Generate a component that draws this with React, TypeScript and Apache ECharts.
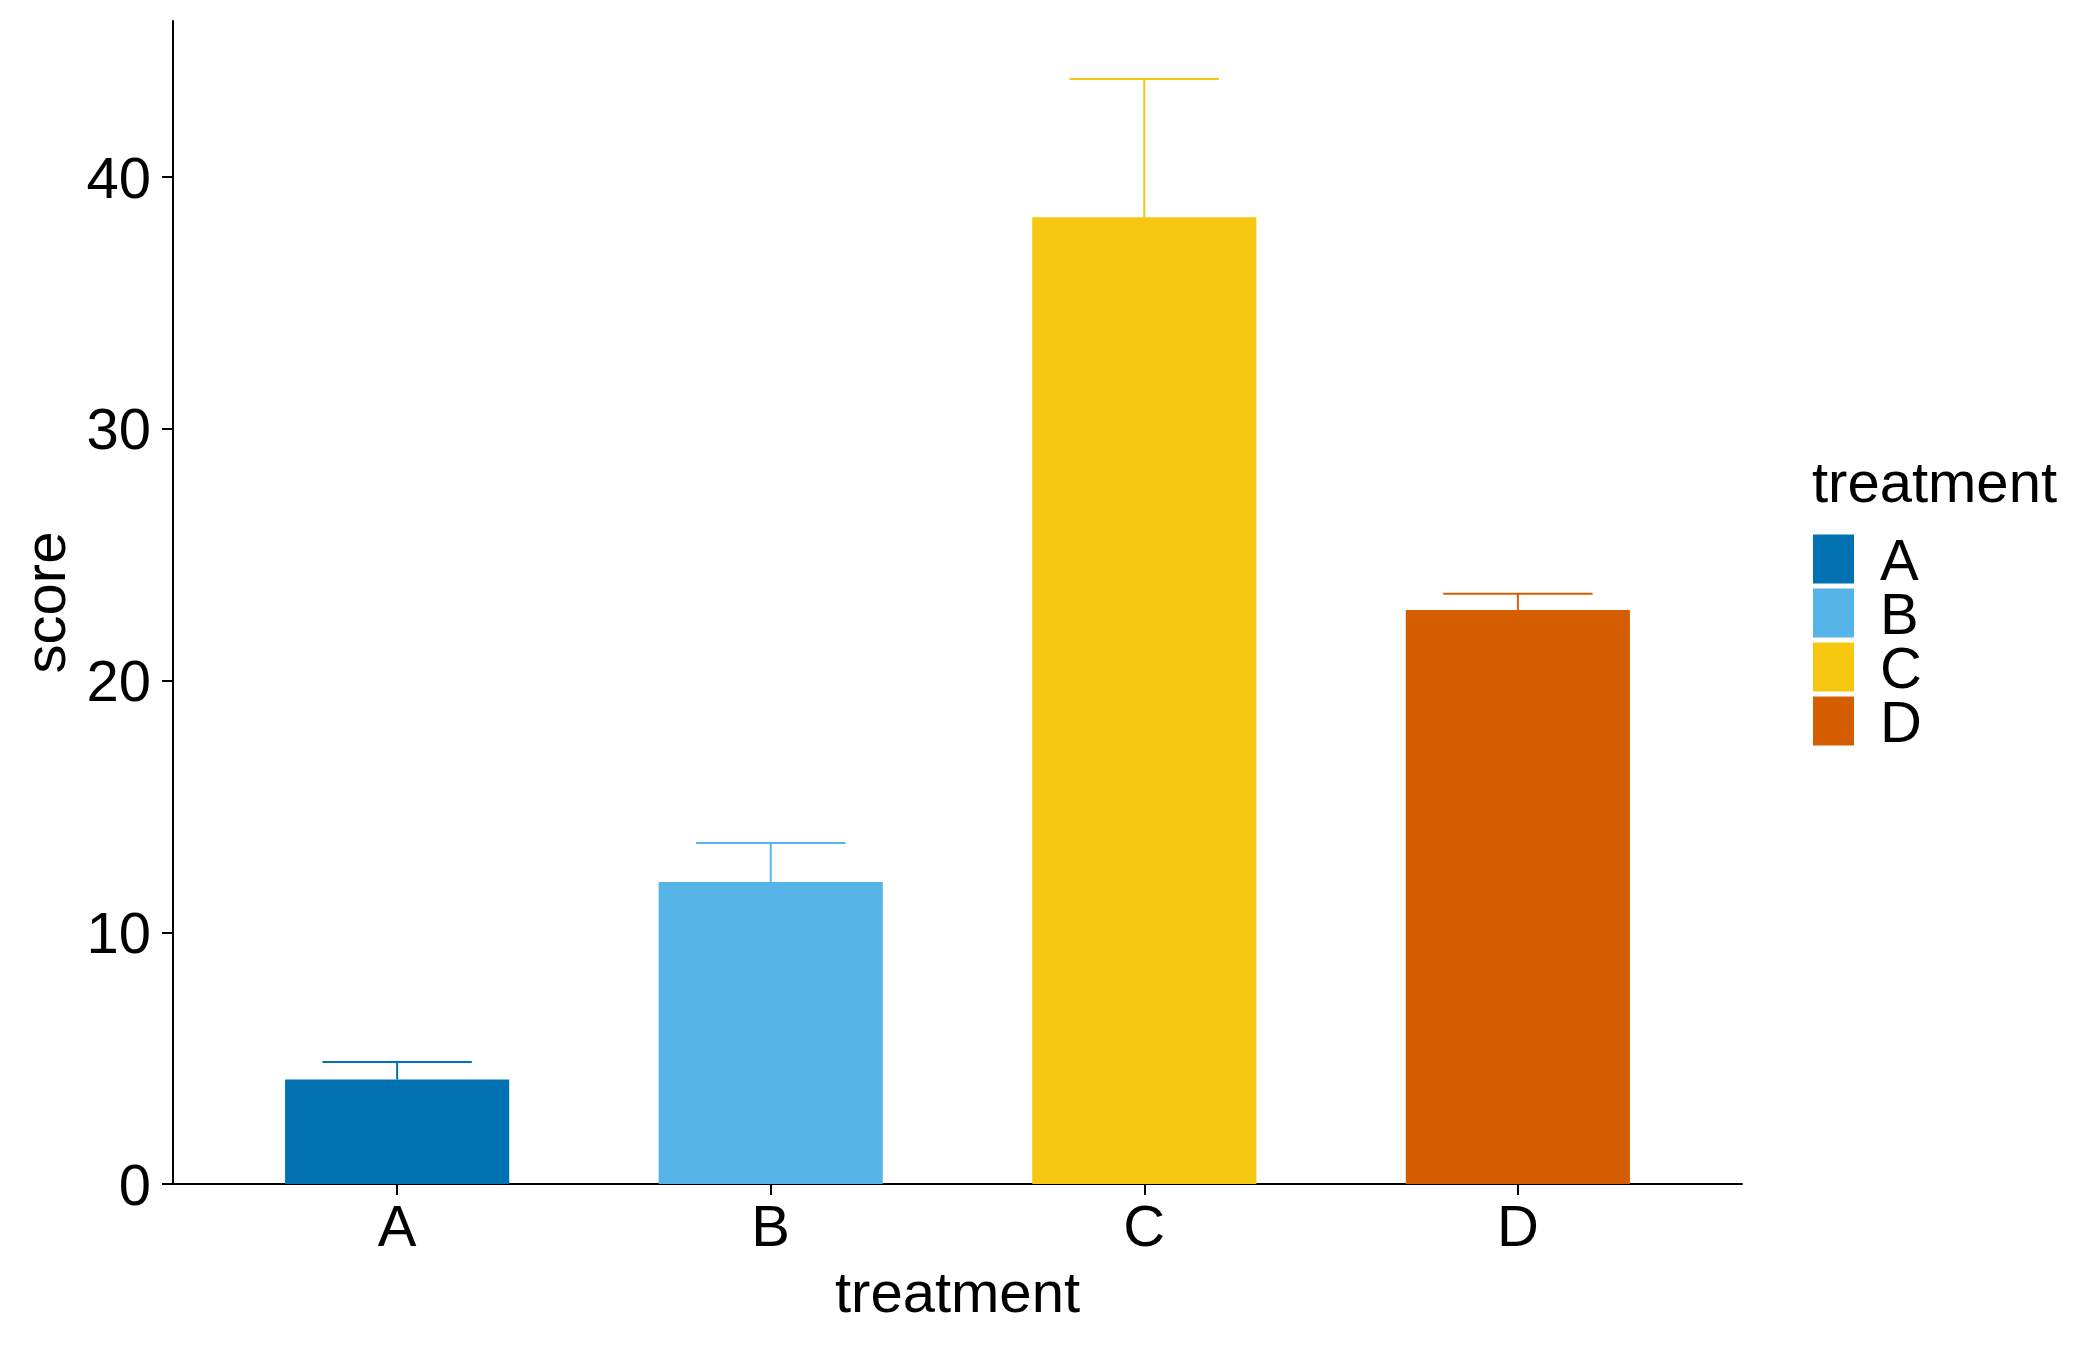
import React, { useEffect, useRef } from "react";
import * as echarts from "echarts";

const categories = ["A", "B", "C", "D"];
const means = [4.15, 12.0, 38.4, 22.8];
const upper = [4.85, 13.55, 43.9, 23.45];
const colors = ["#0072B2", "#56B4E9", "#F5C710", "#D55E00"];
const yTicks = [0, 10, 20, 30, 40];
const xPositions = [1, 2, 3, 4];

const FONT = "'Liberation Sans', Arial, sans-serif";
const BAR_HALF = 0.3;
const CAP_HALF = 0.2;

export default function App() {
  const ref = useRef<HTMLDivElement>(null);
  useEffect(() => {
    if (!ref.current) return;
    const chart = echarts.init(ref.current, null, { renderer: "svg" });
    const series = categories.map((name, i) => ({
      name,
      type: "custom",
      itemStyle: { color: colors[i] },
      encode: { x: 0, y: [1, 2] },
      data: [[xPositions[i], means[i], upper[i]]],
      renderItem: (params: any, api: any) => {
        const x = api.value(0);
        const m = api.value(1);
        const u = api.value(2);
        const p0 = api.coord([x - BAR_HALF, 0]);
        const p1 = api.coord([x + BAR_HALF, m]);
        const mid = api.coord([x, m]);
        const top = api.coord([x, u]);
        const capL = api.coord([x - CAP_HALF, u]);
        const capR = api.coord([x + CAP_HALF, u]);
        return {
          type: "group",
          children: [
            {
              type: "rect",
              shape: { x: p0[0], y: p1[1], width: p1[0] - p0[0], height: p0[1] - p1[1] },
              style: { fill: colors[i] },
            },
            {
              type: "line",
              shape: { x1: mid[0], y1: mid[1], x2: top[0], y2: top[1] },
              style: { stroke: colors[i], lineWidth: 2 },
            },
            {
              type: "line",
              shape: { x1: capL[0], y1: capL[1], x2: capR[0], y2: capR[1] },
              style: { stroke: colors[i], lineWidth: 2 },
            },
          ],
        };
      },
    }));

    chart.setOption({
      animation: false,
      backgroundColor: "#ffffff",
      textStyle: { fontFamily: FONT },
      grid: { left: 173, right: 358, top: 21, bottom: 166 },
      title: {
        text: "treatment",
        left: 1812,
        top: 452,
        padding: 0,
        textStyle: { fontFamily: FONT, fontSize: 58, fontWeight: "normal", color: "#000" },
      },
      legend: {
        orient: "vertical",
        left: 1813,
        top: 530,
        padding: 0,
        icon: "rect",
        itemWidth: 41,
        itemHeight: 49,
        itemGap: -4,
        selectedMode: false,
        data: categories,
        textStyle: {
          fontFamily: FONT,
          fontSize: 58,
          color: "#000",
          lineHeight: 49,
          padding: [0, 0, 0, 21],
        },
      },
      xAxis: {
        type: "value",
        min: 0.4,
        max: 4.6,
        name: "treatment",
        nameLocation: "middle",
        nameGap: 78,
        nameTextStyle: { fontFamily: FONT, fontSize: 58, color: "#000" },
        axisLine: { show: true, onZero: false, lineStyle: { color: "#000", width: 2 } },
        axisTick: { show: true, length: 11, customValues: xPositions, lineStyle: { color: "#000", width: 2 } },
        axisLabel: {
          customValues: xPositions,
          formatter: (v: number) => categories[Math.round(v) - 1] ?? "",
          fontFamily: FONT,
          fontSize: 58,
          color: "#000",
          margin: 12,
        },
        splitLine: { show: false },
      },
      yAxis: {
        type: "value",
        min: 0,
        max: 46.2,
        name: "score",
        nameLocation: "middle",
        nameGap: 100,
        nameTextStyle: { fontFamily: FONT, fontSize: 58, color: "#000" },
        axisLine: { show: true, onZero: false, lineStyle: { color: "#000", width: 2 } },
        axisTick: { show: true, length: 11, customValues: yTicks, lineStyle: { color: "#000", width: 2 } },
        axisLabel: {
          customValues: yTicks,
          fontFamily: FONT,
          fontSize: 58,
          color: "#000",
          margin: 22,
        },
        splitLine: { show: false },
      },
      series,
    });
    return () => chart.dispose();
  }, []);
  return (
    <div
      ref={ref}
      style={{ position: "absolute", left: 0, top: 0, width: 2100, height: 1350, background: "#fff" }}
    />
  );
}
